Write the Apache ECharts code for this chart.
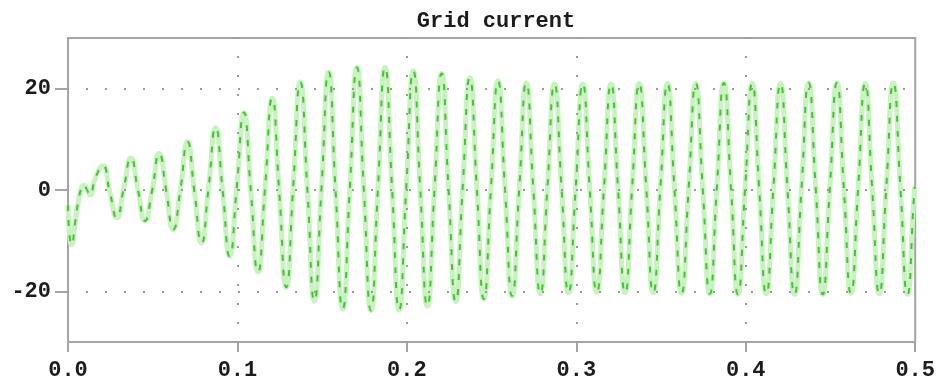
<!DOCTYPE html>
<html>
<head>
<meta charset="utf-8">
<title>Grid current</title>
<script src="https://cdn.jsdelivr.net/npm/echarts@6/dist/echarts.min.js"></script>
<style>
  html, body { margin: 0; padding: 0; background: #ffffff; }
  #chart { width: 938px; height: 388px; }
</style>
</head>
<body>
<div id="chart"></div>
<script>
// Grid current waveform, time in seconds, current in amperes.

// Start-up transient before the first clean cycle
const startup = [
  [0.0000, -3.0], [0.0008, -8.5], [0.0021, -10.8], [0.0042, -6.5],
  [0.0062, -2.0], [0.0082, 0.6], [0.0095, 1.0], [0.0112, 0.0],
  [0.0131, -1.0], [0.0160, 2.2]
];

// Positive peaks of each cycle
const peaks = [
  [0.0205, 4.8], [0.0371, 6.3], [0.0538, 7.2], [0.0705, 9.5], [0.0871, 12.3],
  [0.1038, 15.3], [0.1205, 18.1], [0.1371, 21.3], [0.1538, 23.3], [0.1705, 24.2],
  [0.1871, 24.2], [0.2038, 23.5], [0.2205, 23.0], [0.2371, 22.1], [0.2538, 21.5],
  [0.2705, 21.1], [0.2871, 20.9], [0.3038, 20.9], [0.3205, 20.9], [0.3371, 21.0],
  [0.3538, 21.0], [0.3705, 21.0], [0.3871, 21.1], [0.4038, 21.0], [0.4205, 21.0],
  [0.4371, 21.1], [0.4538, 21.1], [0.4705, 21.0], [0.4871, 21.1]
];

// Negative peaks of each cycle
const troughs = [
  [0.0288, -5.5], [0.0454, -6.1], [0.0621, -7.8], [0.0788, -10.5], [0.0954, -13.1],
  [0.1121, -16.2], [0.1288, -19.2], [0.1454, -21.9], [0.1621, -23.5], [0.1788, -23.8],
  [0.1954, -23.7], [0.2121, -22.9], [0.2288, -22.0], [0.2454, -21.5], [0.2621, -20.9],
  [0.2788, -20.5], [0.2954, -20.3], [0.3121, -20.2], [0.3288, -20.3], [0.3454, -20.3],
  [0.3621, -20.4], [0.3788, -20.5], [0.3954, -20.6], [0.4121, -20.5], [0.4288, -20.6],
  [0.4454, -20.6], [0.4621, -20.4], [0.4788, -20.5], [0.4954, -20.6]
];

// Zero crossings between the peaks
const crossings = [
  [0.0246, -0.3], [0.0329, 0.3], [0.0413, 0.0], [0.0496, -0.2], [0.0579, 0.0],
  [0.0663, 0.0], [0.0746, -0.3], [0.0829, 0.3], [0.0913, -0.2], [0.0996, 0.5],
  [0.1079, -0.2], [0.1163, 0.5], [0.1246, 0.0], [0.1329, 0.6], [0.1413, 0.0],
  [0.1496, 0.3], [0.1579, 0.0], [0.1663, 0.2], [0.1746, 0.0], [0.1829, 0.2],
  [0.1913, 0.0], [0.1996, 0.2], [0.2079, 0.0], [0.2163, 0.2], [0.2246, 0.2],
  [0.2329, 0.3], [0.2413, 0.2], [0.2496, 0.2], [0.2579, 0.2], [0.2663, 0.2],
  [0.2746, 0.3], [0.2829, 0.3], [0.2913, 0.3], [0.2996, 0.3], [0.3079, 0.3],
  [0.3163, 0.3], [0.3246, 0.3], [0.3329, 0.3], [0.3413, 0.3], [0.3496, 0.3],
  [0.3579, 0.3], [0.3663, 0.3], [0.3746, 0.3], [0.3829, 0.3], [0.3913, 0.3],
  [0.3996, 0.3], [0.4079, 0.3], [0.4163, 0.3], [0.4246, 0.3], [0.4329, 0.3],
  [0.4413, 0.3], [0.4496, 0.3], [0.4579, 0.3], [0.4663, 0.3], [0.4746, 0.3],
  [0.4829, 0.3], [0.4913, 0.3], [0.4996, 0.3], [0.5000, 0.6]
];

const yTickValues = [-20, 0, 20];
const xGridValues = [0.1, 0.2, 0.3, 0.4];

const samples = startup.concat(peaks, troughs, crossings)
  .sort((a, b) => a[0] - b[0]);

const FONT = '"Liberation Mono", "DejaVu Sans Mono", monospace';
const FRAME = '#a4a4a4';
const TEXT = '#1c1c1c';
const DOT = { color: '#9a9a9a', width: 2, type: [2, 17], dashOffset: 1 };

const chart = echarts.init(document.getElementById('chart'), null, { renderer: 'canvas' });

chart.setOption({
  animation: false,
  backgroundColor: '#ffffff',
  title: {
    text: 'Grid current',
    left: 491,
    textAlign: 'center',
    top: 5,
    textStyle: { fontFamily: FONT, fontSize: 22, fontWeight: 'bold', color: TEXT }
  },
  grid: {
    left: 68, right: 22, top: 38, bottom: 46,
    show: true, borderColor: FRAME, borderWidth: 2, backgroundColor: '#ffffff'
  },
  xAxis: {
    type: 'value',
    min: 0, max: 0.5, interval: 0.1,
    axisLine: { show: true, onZero: false, lineStyle: { color: FRAME, width: 2 } },
    axisTick: { show: true, length: 10, lineStyle: { color: FRAME, width: 2 } },
    axisLabel: {
      margin: 17,
      fontFamily: FONT, fontSize: 22, fontWeight: 'bold', color: TEXT,
      formatter: v => v.toFixed(1)
    },
    splitLine: { show: false }
  },
  yAxis: {
    type: 'value',
    min: -30, max: 30, interval: 10,
    axisLine: { show: true, onZero: false, lineStyle: { color: FRAME, width: 2 } },
    axisTick: { show: true, length: 13, customValues: yTickValues, lineStyle: { color: FRAME, width: 2 } },
    axisLabel: {
      margin: 17, customValues: yTickValues,
      fontFamily: FONT, fontSize: 22, fontWeight: 'bold', color: TEXT
    },
    splitLine: { show: false }
  },
  series: [
    {
      // dotted reference grid
      type: 'line',
      data: [],
      z: 1,
      silent: true,
      markLine: {
        silent: true,
        symbol: 'none',
        label: { show: false },
        lineStyle: DOT,
        emphasis: { disabled: true },
        data: yTickValues.map(v => ({ yAxis: v }))
          .concat(xGridValues.map(v => ({ xAxis: v })))
      }
    },
    {
      // soft band under the trace
      type: 'line',
      data: samples,
      z: 2,
      smooth: 0.55,
      showSymbol: false,
      silent: true,
      lineStyle: { color: '#c8f2bf', width: 5 }
    },
    {
      // dashed trace on top
      type: 'line',
      data: samples,
      z: 3,
      smooth: 0.55,
      showSymbol: false,
      silent: true,
      lineStyle: { color: '#3ccb28', width: 2, type: [6, 9] }
    }
  ]
});
</script>
</body>
</html>
